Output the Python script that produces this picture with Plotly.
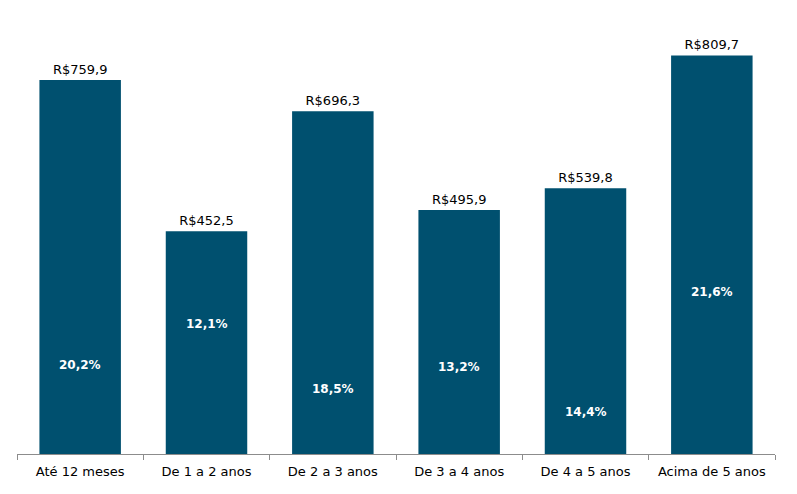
import plotly.graph_objects as go

categories = ["Até 12 meses", "De 1 a 2 anos", "De 2 a 3 anos", "De 3 a 4 anos", "De 4 a 5 anos", "Acima de 5 anos"]
values = [759.9, 452.5, 696.3, 495.9, 539.8, 809.7]
shares = [20.2, 12.1, 18.5, 13.2, 14.4, 21.6]
share_label_y = [181, 264, 132, 177, 85, 329]

def br(v, d=1):
    return f"{v:.{d}f}".replace(".", ",")

bar_color = "#00506F"

fig = go.Figure()
fig.add_trace(go.Bar(
    x=categories, y=values,
    marker=dict(color=bar_color, line=dict(width=0)),
    width=0.645,
    text=["R$" + br(v) for v in values],
    textposition="outside",
    textfont=dict(family="DejaVu Sans, Verdana, sans-serif", size=13, color="#000000"),
    cliponaxis=False,
    hoverinfo="skip",
))

for c, s, yy in zip(categories, shares, share_label_y):
    fig.add_annotation(
        x=c, y=yy, text="<b>" + br(s) + "%</b>", showarrow=False,
        font=dict(family="DejaVu Sans, Verdana, sans-serif", size=12, color="#ffffff"),
    )

fig.update_layout(
    width=797, height=494,
    margin=dict(l=17, r=22, t=10, b=40),
    plot_bgcolor="white", paper_bgcolor="white",
    showlegend=False,
    xaxis=dict(
        type="category", range=[-0.5, 5.5],
        showline=True, linecolor="#8c8c8c", linewidth=1,
        ticks="outside", tickson="boundaries", ticklen=5, tickcolor="#8c8c8c",
        ticklabelstandoff=5,
        tickfont=dict(family="DejaVu Sans, Verdana, sans-serif", size=13, color="#000000"),
        showgrid=False, zeroline=False,
    ),
    yaxis=dict(range=[0, 902], visible=False, showgrid=False, zeroline=False),
)

fig.write_html("out.html")
